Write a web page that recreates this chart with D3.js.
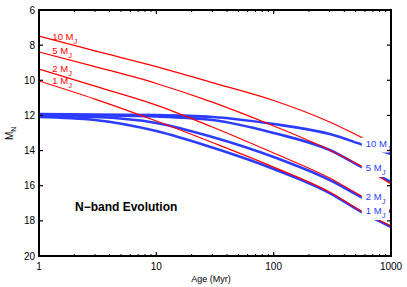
<!DOCTYPE html>
<html><head><meta charset="utf-8">
<script src="https://cdn.jsdelivr.net/npm/d3@7"></script>
<style>body{margin:0;background:#fff}svg{display:block}text{font-family:"Liberation Sans",Arial,sans-serif}</style>
</head><body>
<svg id="c" width="407" height="287"></svg>
<script>
// ---- data ----
const ages = [1, 3, 10, 30, 100, 300, 580, 1000];
const massLabels = ["10", "5", "2", "1"];
const redSeries = [
  [7.48, 8.33, 9.22, 10.13, 11.15, 12.37, 13.29, 14.03],
  [8.39, 9.22, 10.18, 11.24, 12.6, 13.97, 14.95, 15.9],
  [9.36, 10.33, 11.41, 12.66, 14.14, 15.56, 16.64, 17.44],
  [10.04, 11.07, 12.32, 13.54, 14.94, 16.36, 17.5, 18.29]
];
const blueSeries = [
  [11.92, 11.95, 11.98, 12.09, 12.49, 13.06, 13.68, 14.2],
  [11.98, 12.0, 12.06, 12.26, 13.0, 13.97, 14.99, 15.79],
  [12.03, 12.09, 12.43, 13.23, 14.37, 15.68, 16.7, 17.5],
  [12.09, 12.26, 12.89, 13.83, 15.05, 16.42, 17.55, 18.35]
];
const redLabelAge = 1.3;
const redLabelM = [7.68, 8.53, 9.53, 10.21];
const blueLabelAge = 610;
const blueLabelM = [13.77, 15.16, 16.81, 17.61];
const xTicks = [1, 10, 100, 1000];
const yTicks = [6, 8, 10, 12, 14, 16, 18, 20];
const title = "N\u2212band Evolution";

// ---- chart ----
const svg = d3.select("#c");
const L = 39, R = 391, T = 10, B = 256;
const x = d3.scaleLog().domain([1, 1000]).range([L, R]);
const y = d3.scaleLinear().domain([6, 20]).range([T, B]);
const RED = "#ff0000", BLUE = "#2c3cff";

svg.append("defs").append("clipPath").attr("id", "clip")
  .append("rect").attr("x", L).attr("y", T).attr("width", R - L).attr("height", B - T);

const line = d3.line().x((d, i) => x(ages[i])).y(d => y(d)).curve(d3.curveMonotoneX);
const g = svg.append("g").attr("clip-path", "url(#clip)");
blueSeries.forEach(s => g.append("path").attr("d", line(s)).attr("fill", "none")
  .attr("stroke", BLUE).attr("stroke-width", 2.6));
redSeries.forEach(s => g.append("path").attr("d", line(s)).attr("fill", "none")
  .attr("stroke", RED).attr("stroke-width", 1.2));

// blue labels with white background
massLabels.forEach((m, i) => {
  const bx = x(blueLabelAge), by = y(blueLabelM[i]);
  svg.append("rect").attr("x", bx - 4).attr("y", by - 9).attr("width", 389 - (bx - 4)).attr("height", 15).attr("fill", "#fff");
  const t = svg.append("text").attr("x", bx).attr("y", by).attr("fill", BLUE).attr("font-size", 9.5);
  t.append("tspan").text(m + " M");
  t.append("tspan").attr("dy", 4).attr("font-size", 7.5).text("J");
});
// red labels
massLabels.forEach((m, i) => {
  const t = svg.append("text").attr("x", x(redLabelAge)).attr("y", y(redLabelM[i])).attr("fill", RED).attr("font-size", 9.5);
  t.append("tspan").text(m + " M");
  t.append("tspan").attr("dy", 4).attr("font-size", 7.5).text("J");
});

// axes box & ticks
const ax = svg.append("g").attr("stroke", "#000");
const minor = [];
[1, 10, 100].forEach(d => { for (let k = 2; k <= 9; k++) minor.push(d * k); });
minor.forEach(v => {
  ax.append("line").attr("x1", x(v)).attr("x2", x(v)).attr("y1", B).attr("y2", B - 2).attr("stroke-width", 1);
  ax.append("line").attr("x1", x(v)).attr("x2", x(v)).attr("y1", T).attr("y2", T + 2).attr("stroke-width", 1);
});
xTicks.forEach(v => {
  ax.append("line").attr("x1", x(v)).attr("x2", x(v)).attr("y1", B).attr("y2", B - 4).attr("stroke-width", 1.2);
  ax.append("line").attr("x1", x(v)).attr("x2", x(v)).attr("y1", T).attr("y2", T + 4).attr("stroke-width", 1.2);
});
yTicks.forEach(v => {
  ax.append("line").attr("x1", L).attr("x2", L + 4).attr("y1", y(v)).attr("y2", y(v)).attr("stroke-width", 1.2);
  ax.append("line").attr("x1", R).attr("x2", R - 4).attr("y1", y(v)).attr("y2", y(v)).attr("stroke-width", 1.2);
});
ax.append("rect").attr("x", L).attr("y", T).attr("width", R - L).attr("height", B - T)
  .attr("fill", "none").attr("stroke-width", 2);

// tick labels
svg.append("g").selectAll("text").data(xTicks).join("text")
  .attr("x", d => x(d)).attr("y", 270).attr("text-anchor", "middle").attr("font-size", 10).text(d => d);
svg.append("g").selectAll("text").data(yTicks).join("text")
  .attr("x", 35).attr("y", d => y(d) + 3.5).attr("text-anchor", "end").attr("font-size", 10).text(d => d);

// axis titles
svg.append("text").attr("x", 211).attr("y", 282).attr("text-anchor", "middle").attr("font-size", 9).text("Age (Myr)");
const yl = svg.append("text").attr("transform", "translate(13,140) rotate(-90)").attr("font-size", 10);
yl.append("tspan").text("M");
yl.append("tspan").attr("dy", 3).attr("font-size", 7).text("N");

// title
svg.append("text").attr("x", 75).attr("y", 211).attr("font-size", 12).attr("font-weight", "bold").text(title);
</script>
</body></html>
